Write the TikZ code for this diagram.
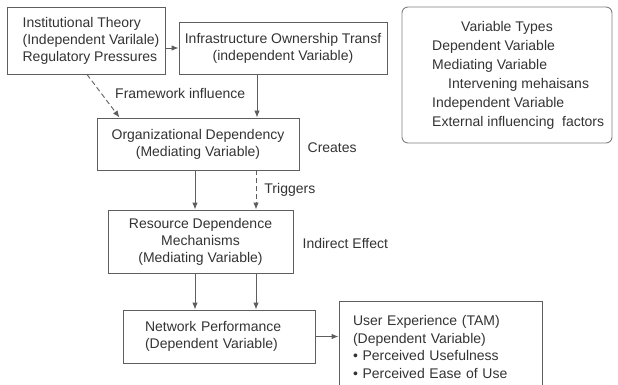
\documentclass[tikz,border=0pt]{standalone}
\usepackage{fontspec}
\setmainfont{Liberation Sans}
\usetikzlibrary{positioning,arrows.meta}
\definecolor{inkgray}{HTML}{333333}
\definecolor{linegray}{HTML}{5E5E5E}

\begin{document}
\begin{tikzpicture}[x=1pt, y=-1pt,
  every node/.style={font=\fontsize{14}{17}\selectfont, text=inkgray},
  box/.style={draw=linegray, line width=0.9pt, rectangle, inner sep=0pt, align=center},
  arr/.style={draw=linegray, line width=0.9pt, -{Latex[length=7pt,width=5.5pt]}},
  dashline/.style={dash pattern=on 5pt off 3pt},
  lbl/.style={anchor=west, inner sep=0pt}]

  \useasboundingbox (0,0) rectangle (618,385);

  % variable boxes
  \node [box, minimum width=158pt, minimum height=67pt, align=left](inst) at (86,40.5) {\hspace*{10pt}Institutional Theory\\\hspace*{10pt}(Independent Varilale)\\\hspace*{10pt}Regulatory Pressures};
  \node [box, minimum width=208pt, minimum height=52pt](infra) at (283,48) {Infrastructure Ownership Transf\\(independent Variable)};
  \node [box, minimum width=202pt, minimum height=52pt](org) at (198,144) {Organizational Dependency\\(Mediating Variable)};
  \node [box, minimum width=185pt, minimum height=63pt](res) at (200.5,241.5) {Resource Dependence\\Mechanisms\\(Mediating Variable)};
  \node [box, minimum width=192pt, minimum height=53pt, text width=148pt, align=left](net) at (219,336.5) {Network Performance\\(Dependent Variable)};
  \node [box, minimum width=203pt, minimum height=92pt, text width=175pt, align=left, font=\fontsize{14}{17.6}\selectfont](user) at (440.5,347) {User Experience (TAM)\\(Dependent Variable)\\• Perceived Usefulness\\• Perceived Ease of Use};

  % legend
  \node [box, rounded corners=6pt, draw=gray, minimum width=210pt, minimum height=136pt](legend) at (507,75) {};
  \node [anchor=west, align=left, inner sep=0pt, font=\fontsize{14}{19}\selectfont](legendtext) at (432,75) {\hspace*{29pt}Variable Types\\Dependent Variable\\Mediating Variable\\\hspace*{16pt}Intervening mehaisans\\Independent Variable\\External influencing\ \ factors};

  % connectors
  \draw [arr] (inst.east |- infra.west) -- (infra.west);
  \draw [arr] ([xshift=-26pt]infra.south) -- ([xshift=-26pt]infra.south |- org.north);
  \draw [arr, dashline] ([xshift=1pt]inst.south) -- ([xshift=23pt]org.north west);
  \draw [arr] ([xshift=-3pt]org.south) -- ([xshift=-3pt]org.south |- res.north);
  \draw [arr, dashline] ([xshift=58pt]org.south) -- ([xshift=58pt]org.south |- res.north)
    node [midway, right=8pt, inner sep=0pt](trig) {Triggers};
  \draw [arr] ([xshift=-5.5pt]res.south) -- ([xshift=-5.5pt]res.south |- net.north);
  \draw [arr] ([xshift=55.5pt]res.south) -- ([xshift=55.5pt]res.south |- net.north);
  \draw [arr] (net.east) -- (net.east -| user.west);

  % edge texts
  \node [lbl](frame) at (115,93) {Framework influence};
  \node [right=8pt of org, yshift=-4pt, inner sep=0pt](creates) {Creates};
  \node [right=9pt of res, yshift=-1.5pt, inner sep=0pt](indirect) {Indirect Effect};
\end{tikzpicture}
\end{document}
